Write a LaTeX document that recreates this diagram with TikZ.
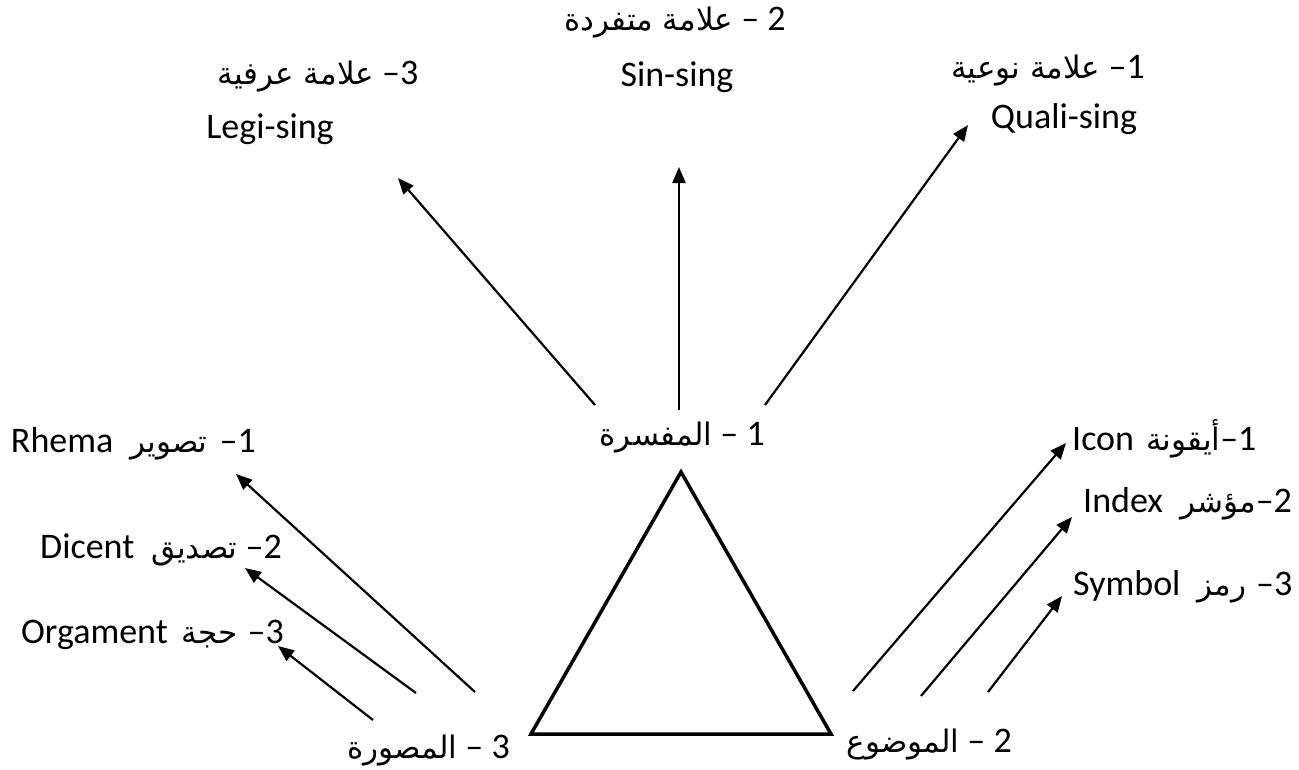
\documentclass[tikz,border=0pt]{standalone}
\usepackage{fontspec}
\setmainfont{Carlito}
\newfontfamily\arfont[Script=Arabic]{DejaVu Sans}
\TeXXeTstate=1
\usetikzlibrary{arrows.meta}
\newcommand{\AR}[1]{{\arfont\fontsize{31}{34}\selectfont\beginR #1\endR}}
\begin{document}
\begin{tikzpicture}[x=1pt,y=-1pt,
  lbl/.style={inner sep=0pt, font=\fontsize{36}{40}\selectfont},
  arr/.style={line width=2.2pt, -{Triangle[length=16pt,width=13pt]}},
  tri/.style={line width=3.5pt, line join=miter}]
\useasboundingbox (0,0) rectangle (1299,769);

% triangle
\coordinate (apex) at (681,472);
\coordinate (bl) at (531,734);
\coordinate (br) at (831,734);
\draw[tri] (apex) -- (bl) -- (br) -- cycle;

% vertex labels
\node[lbl, anchor=base east] (interp) at (765,445) {\AR{المفسرة}~–~1};
\node[lbl, anchor=base east] (repr) at (510,758) {\AR{المصورة}~–~3};
\node[lbl, anchor=base east] (obj) at (1012,752) {\AR{الموضوع}~–~2};

% top labels
\node[lbl, anchor=base] (sin) at (675,30) {\AR{علامة متفردة}~–~2};
\node[lbl, anchor=base] (sinE) at (677,86) {Sin-sing};
\node[lbl, anchor=base] (legi) at (318,84) {\AR{علامة عرفية}~–3};
\node[lbl, anchor=base] (legiE) at (270,138) {Legi-sing};
\node[lbl, anchor=base] (quali) at (1048,78) {\AR{علامة نوعية}~–1};
\node[lbl, anchor=base] (qualiE) at (1064,128) {Quali-sing};

% left labels
\node[lbl, anchor=base east] (rhema) at (256,452) {Rhema\hspace{17pt}\AR{تصوير}\hspace{12pt}–1};
\node[lbl, anchor=base east] (dicent) at (282,558) {Dicent\hspace{17pt}\AR{تصديق}\hspace{8pt}–2};
\node[lbl, anchor=base east] (orga) at (284,643) {Orgament\hspace{14pt}\AR{حجة}\hspace{10pt}–3};

% right labels
\node[lbl, anchor=base west] (icon) at (1072,450) {Icon\hspace{12pt}\AR{أيقونة}–1};
\node[lbl, anchor=base west] (index) at (1083,512) {Index\hspace{17pt}\AR{مؤشر}–2};
\node[lbl, anchor=base west] (symbol) at (1073,595) {Symbol\hspace{17pt}\AR{رمز}\hspace{10pt}–3};

% arrow end points
\coordinate (t1s) at (679,410);  \coordinate (t1e) at (679,167);
\coordinate (t2s) at (595,405);  \coordinate (t2e) at (398,178);
\coordinate (t3s) at (765,405);  \coordinate (t3e) at (968,125);
\coordinate (l1s) at (475,692);  \coordinate (l1e) at (236,474);
\coordinate (l2s) at (416,693);  \coordinate (l2e) at (245,568);
\coordinate (l3s) at (373,720);  \coordinate (l3e) at (278,646);
\coordinate (r1s) at (853,691);  \coordinate (r1e) at (1066,443);
\coordinate (r2s) at (921,696);  \coordinate (r2e) at (1072,517);
\coordinate (r3s) at (988,692);  \coordinate (r3e) at (1062,596);

\draw[arr] (t1s) -- (t1e);
\draw[arr] (t2s) -- (t2e);
\draw[arr] (t3s) -- (t3e);
\draw[arr] (l1s) -- (l1e);
\draw[arr] (l2s) -- (l2e);
\draw[arr] (l3s) -- (l3e);
\draw[arr] (r1s) -- (r1e);
\draw[arr] (r2s) -- (r2e);
\draw[arr] (r3s) -- (r3e);
\end{tikzpicture}
\end{document}
